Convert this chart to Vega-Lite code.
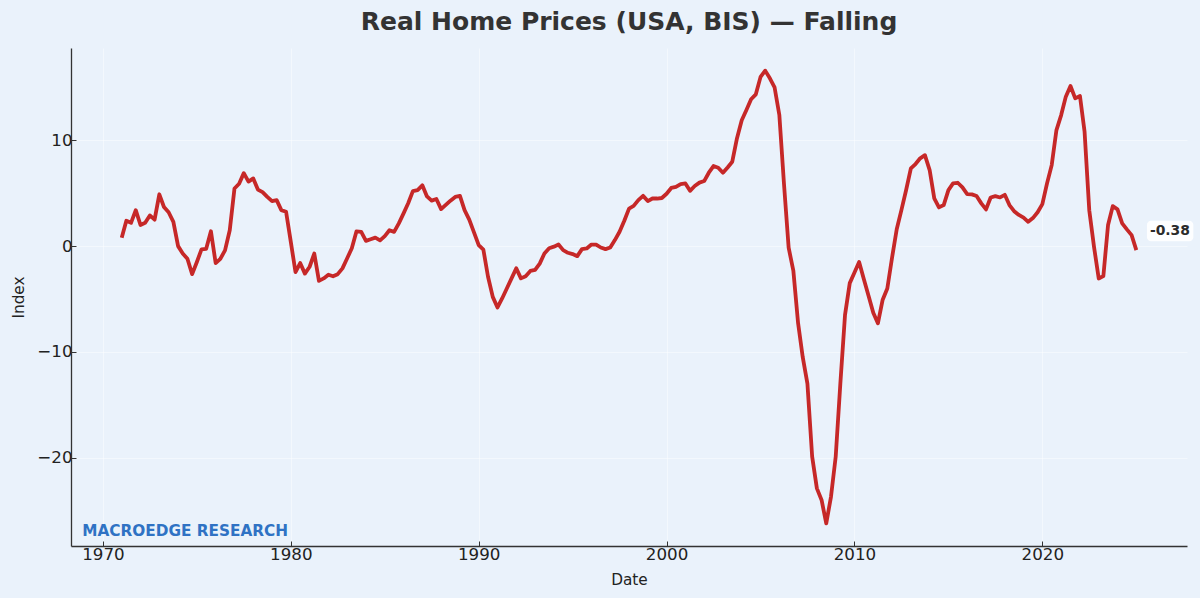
{
  "$schema": "https://vega.github.io/schema/vega-lite/v6.json",
  "width": 1116,
  "height": 498,
  "autosize": {"type": "none"},
  "padding": {"left": 71, "top": 48, "right": 13, "bottom": 52},
  "background": "#eaf2fb",
  "title": {
    "text": "Real Home Prices (USA, BIS) — Falling",
    "font": "DejaVu Sans",
    "fontSize": 25,
    "fontWeight": "bold",
    "color": "#333333",
    "anchor": "middle",
    "frame": "group",
    "baseline": "alphabetic",
    "offset": -7
  },
  "data": {
    "format": {"parse": {"date": "date"}},
    "values": [
      {"date": "1971-01-01", "value": 0.8}, {"date": "1971-04-01", "value": 2.4}, {"date": "1971-07-01", "value": 2.2}, {"date": "1971-10-01", "value": 3.4},
      {"date": "1972-01-01", "value": 2.0}, {"date": "1972-04-01", "value": 2.2}, {"date": "1972-07-01", "value": 2.9}, {"date": "1972-10-01", "value": 2.5},
      {"date": "1973-01-01", "value": 4.9}, {"date": "1973-04-01", "value": 3.7}, {"date": "1973-07-01", "value": 3.2}, {"date": "1973-10-01", "value": 2.3},
      {"date": "1974-01-01", "value": 0.0}, {"date": "1974-04-01", "value": -0.7}, {"date": "1974-07-01", "value": -1.2}, {"date": "1974-10-01", "value": -2.65},
      {"date": "1975-01-01", "value": -1.5}, {"date": "1975-04-01", "value": -0.3}, {"date": "1975-07-01", "value": -0.25}, {"date": "1975-10-01", "value": 1.4},
      {"date": "1976-01-01", "value": -1.6}, {"date": "1976-04-01", "value": -1.2}, {"date": "1976-07-01", "value": -0.4}, {"date": "1976-10-01", "value": 1.5},
      {"date": "1977-01-01", "value": 5.45}, {"date": "1977-04-01", "value": 5.9}, {"date": "1977-07-01", "value": 6.9}, {"date": "1977-10-01", "value": 6.1},
      {"date": "1978-01-01", "value": 6.4}, {"date": "1978-04-01", "value": 5.35}, {"date": "1978-07-01", "value": 5.1}, {"date": "1978-10-01", "value": 4.65},
      {"date": "1979-01-01", "value": 4.25}, {"date": "1979-04-01", "value": 4.35}, {"date": "1979-07-01", "value": 3.4}, {"date": "1979-10-01", "value": 3.25},
      {"date": "1980-01-01", "value": 0.4}, {"date": "1980-04-01", "value": -2.45}, {"date": "1980-07-01", "value": -1.6}, {"date": "1980-10-01", "value": -2.6},
      {"date": "1981-01-01", "value": -1.95}, {"date": "1981-04-01", "value": -0.7}, {"date": "1981-07-01", "value": -3.28}, {"date": "1981-10-01", "value": -3.05},
      {"date": "1982-01-01", "value": -2.7}, {"date": "1982-04-01", "value": -2.85}, {"date": "1982-07-01", "value": -2.65}, {"date": "1982-10-01", "value": -2.1},
      {"date": "1983-01-01", "value": -1.15}, {"date": "1983-04-01", "value": -0.2}, {"date": "1983-07-01", "value": 1.4}, {"date": "1983-10-01", "value": 1.35},
      {"date": "1984-01-01", "value": 0.5}, {"date": "1984-04-01", "value": 0.65}, {"date": "1984-07-01", "value": 0.8}, {"date": "1984-10-01", "value": 0.55},
      {"date": "1985-01-01", "value": 0.95}, {"date": "1985-04-01", "value": 1.5}, {"date": "1985-07-01", "value": 1.35}, {"date": "1985-10-01", "value": 2.15},
      {"date": "1986-01-01", "value": 3.1}, {"date": "1986-04-01", "value": 4.05}, {"date": "1986-07-01", "value": 5.2}, {"date": "1986-10-01", "value": 5.3},
      {"date": "1987-01-01", "value": 5.75}, {"date": "1987-04-01", "value": 4.7}, {"date": "1987-07-01", "value": 4.3}, {"date": "1987-10-01", "value": 4.45},
      {"date": "1988-01-01", "value": 3.5}, {"date": "1988-04-01", "value": 3.9}, {"date": "1988-07-01", "value": 4.3}, {"date": "1988-10-01", "value": 4.65},
      {"date": "1989-01-01", "value": 4.75}, {"date": "1989-04-01", "value": 3.4}, {"date": "1989-07-01", "value": 2.5}, {"date": "1989-10-01", "value": 1.3},
      {"date": "1990-01-01", "value": 0.1}, {"date": "1990-04-01", "value": -0.32}, {"date": "1990-07-01", "value": -2.9}, {"date": "1990-10-01", "value": -4.8},
      {"date": "1991-01-01", "value": -5.8}, {"date": "1991-04-01", "value": -4.95}, {"date": "1991-07-01", "value": -4.0}, {"date": "1991-10-01", "value": -3.05},
      {"date": "1992-01-01", "value": -2.1}, {"date": "1992-04-01", "value": -3.05}, {"date": "1992-07-01", "value": -2.85}, {"date": "1992-10-01", "value": -2.35},
      {"date": "1993-01-01", "value": -2.25}, {"date": "1993-04-01", "value": -1.65}, {"date": "1993-07-01", "value": -0.7}, {"date": "1993-10-01", "value": -0.2},
      {"date": "1994-01-01", "value": -0.05}, {"date": "1994-04-01", "value": 0.15}, {"date": "1994-07-01", "value": -0.38}, {"date": "1994-10-01", "value": -0.63},
      {"date": "1995-01-01", "value": -0.75}, {"date": "1995-04-01", "value": -0.95}, {"date": "1995-07-01", "value": -0.28}, {"date": "1995-10-01", "value": -0.22},
      {"date": "1996-01-01", "value": 0.15}, {"date": "1996-04-01", "value": 0.15}, {"date": "1996-07-01", "value": -0.13}, {"date": "1996-10-01", "value": -0.28},
      {"date": "1997-01-01", "value": -0.13}, {"date": "1997-04-01", "value": 0.57}, {"date": "1997-07-01", "value": 1.36}, {"date": "1997-10-01", "value": 2.4},
      {"date": "1998-01-01", "value": 3.55}, {"date": "1998-04-01", "value": 3.8}, {"date": "1998-07-01", "value": 4.35}, {"date": "1998-10-01", "value": 4.75},
      {"date": "1999-01-01", "value": 4.26}, {"date": "1999-04-01", "value": 4.5}, {"date": "1999-07-01", "value": 4.5}, {"date": "1999-10-01", "value": 4.55},
      {"date": "2000-01-01", "value": 4.95}, {"date": "2000-04-01", "value": 5.5}, {"date": "2000-07-01", "value": 5.6}, {"date": "2000-10-01", "value": 5.87},
      {"date": "2001-01-01", "value": 5.93}, {"date": "2001-04-01", "value": 5.23}, {"date": "2001-07-01", "value": 5.68}, {"date": "2001-10-01", "value": 6.0},
      {"date": "2002-01-01", "value": 6.15}, {"date": "2002-04-01", "value": 6.94}, {"date": "2002-07-01", "value": 7.57}, {"date": "2002-10-01", "value": 7.41},
      {"date": "2003-01-01", "value": 6.94}, {"date": "2003-04-01", "value": 7.44}, {"date": "2003-07-01", "value": 7.98}, {"date": "2003-10-01", "value": 10.2},
      {"date": "2004-01-01", "value": 11.9}, {"date": "2004-04-01", "value": 12.87}, {"date": "2004-07-01", "value": 13.88}, {"date": "2004-10-01", "value": 14.35},
      {"date": "2005-01-01", "value": 16.0}, {"date": "2005-04-01", "value": 16.59}, {"date": "2005-07-01", "value": 15.86}, {"date": "2005-10-01", "value": 15.0},
      {"date": "2006-01-01", "value": 12.4}, {"date": "2006-04-01", "value": 5.9}, {"date": "2006-07-01", "value": -0.15}, {"date": "2006-10-01", "value": -2.35},
      {"date": "2007-01-01", "value": -7.3}, {"date": "2007-04-01", "value": -10.5}, {"date": "2007-07-01", "value": -13.0}, {"date": "2007-10-01", "value": -19.9},
      {"date": "2008-01-01", "value": -22.9}, {"date": "2008-04-01", "value": -24.0}, {"date": "2008-07-01", "value": -26.21}, {"date": "2008-10-01", "value": -23.7},
      {"date": "2009-01-01", "value": -19.9}, {"date": "2009-04-01", "value": -13.0}, {"date": "2009-07-01", "value": -6.5}, {"date": "2009-10-01", "value": -3.5},
      {"date": "2010-01-01", "value": -2.5}, {"date": "2010-04-01", "value": -1.5}, {"date": "2010-07-01", "value": -3.1}, {"date": "2010-10-01", "value": -4.7},
      {"date": "2011-01-01", "value": -6.3}, {"date": "2011-04-01", "value": -7.3}, {"date": "2011-07-01", "value": -5.1}, {"date": "2011-10-01", "value": -4.0},
      {"date": "2012-01-01", "value": -1.1}, {"date": "2012-04-01", "value": 1.6}, {"date": "2012-07-01", "value": 3.4}, {"date": "2012-10-01", "value": 5.3},
      {"date": "2013-01-01", "value": 7.35}, {"date": "2013-04-01", "value": 7.76}, {"date": "2013-07-01", "value": 8.3}, {"date": "2013-10-01", "value": 8.6},
      {"date": "2014-01-01", "value": 7.19}, {"date": "2014-04-01", "value": 4.51}, {"date": "2014-07-01", "value": 3.66}, {"date": "2014-10-01", "value": 3.88},
      {"date": "2015-01-01", "value": 5.3}, {"date": "2015-04-01", "value": 5.93}, {"date": "2015-07-01", "value": 5.99}, {"date": "2015-10-01", "value": 5.55},
      {"date": "2016-01-01", "value": 4.92}, {"date": "2016-04-01", "value": 4.89}, {"date": "2016-07-01", "value": 4.73}, {"date": "2016-10-01", "value": 4.04},
      {"date": "2017-01-01", "value": 3.47}, {"date": "2017-04-01", "value": 4.6}, {"date": "2017-07-01", "value": 4.73}, {"date": "2017-10-01", "value": 4.6},
      {"date": "2018-01-01", "value": 4.85}, {"date": "2018-04-01", "value": 3.88}, {"date": "2018-07-01", "value": 3.3}, {"date": "2018-10-01", "value": 2.95},
      {"date": "2019-01-01", "value": 2.7}, {"date": "2019-04-01", "value": 2.3}, {"date": "2019-07-01", "value": 2.65}, {"date": "2019-10-01", "value": 3.2},
      {"date": "2020-01-01", "value": 3.97}, {"date": "2020-04-01", "value": 5.93}, {"date": "2020-07-01", "value": 7.66}, {"date": "2020-10-01", "value": 10.97},
      {"date": "2021-01-01", "value": 12.39}, {"date": "2021-04-01", "value": 14.13}, {"date": "2021-07-01", "value": 15.14}, {"date": "2021-10-01", "value": 13.97},
      {"date": "2022-01-01", "value": 14.19}, {"date": "2022-04-01", "value": 10.81}, {"date": "2022-07-01", "value": 3.4}, {"date": "2022-10-01", "value": -0.06},
      {"date": "2023-01-01", "value": -3.06}, {"date": "2023-04-01", "value": -2.84}, {"date": "2023-07-01", "value": 1.99}, {"date": "2023-10-01", "value": 3.78},
      {"date": "2024-01-01", "value": 3.47}, {"date": "2024-04-01", "value": 2.15}, {"date": "2024-07-01", "value": 1.58}, {"date": "2024-10-01", "value": 1.04},
      {"date": "2025-01-01", "value": -0.38}
    ]
  },
  "layer": [
    {
      "mark": {"type": "line", "color": "#c62828", "strokeWidth": 3.8, "strokeJoin": "round", "strokeCap": "butt"},
      "encoding": {
        "x": {
          "field": "date",
          "type": "temporal",
          "scale": {
            "type": "utc",
            "domain": [
              {"year": 1968, "month": 4, "date": 20, "utc": true},
              {"year": 2027, "month": 9, "date": 13, "utc": true}
            ]
          },
          "axis": {
            "title": "Date",
            "format": "%Y",
            "tickCount": {"interval": "year", "step": 10},
            "labelPadding": 5,
            "titlePadding": 10
          }
        },
        "y": {
          "field": "value",
          "type": "quantitative",
          "scale": {"domain": [-28.35, 18.73], "nice": false, "zero": false},
          "axis": {
            "title": "Index",
            "values": [-20, -10, 0, 10],
            "labelPadding": 4,
            "titlePadding": 10
          }
        }
      }
    },
    {
      "transform": [{"filter": "time(datum.date) === utc(2025, 0, 1)"}],
      "mark": {
        "type": "rect",
        "fill": "#ffffff",
        "opacity": 0.9,
        "cornerRadius": 4,
        "xOffset": 10.6,
        "x2Offset": 57,
        "yOffset": -29.3,
        "y2Offset": -9
      },
      "encoding": {
        "x": {"field": "date", "type": "temporal"},
        "x2": {"field": "date"},
        "y": {"field": "value", "type": "quantitative"},
        "y2": {"field": "value"}
      }
    },
    {
      "transform": [
        {"filter": "time(datum.date) === utc(2025, 0, 1)"},
        {"calculate": "replace(format(datum.value, '.2f'), '\u2212', '-')", "as": "label"}
      ],
      "mark": {
        "type": "text",
        "font": "DejaVu Sans",
        "fontSize": 13.9,
        "fontWeight": "bold",
        "color": "#2b2b2b",
        "align": "center",
        "baseline": "middle",
        "xOffset": 33.6,
        "yOffset": -19.1
      },
      "encoding": {
        "x": {"field": "date", "type": "temporal"},
        "y": {"field": "value", "type": "quantitative"},
        "text": {"field": "label"}
      }
    },
    {
      "data": {"values": [{"brand": "MACROEDGE RESEARCH"}]},
      "mark": {
        "type": "text",
        "font": "DejaVu Sans",
        "fontSize": 15.3,
        "fontWeight": "bold",
        "color": "#2f72c4",
        "align": "left",
        "baseline": "alphabetic",
        "x": {"expr": "width * 0.01"},
        "y": {"expr": "height * 0.98"}
      },
      "encoding": {"text": {"field": "brand"}}
    }
  ],
  "config": {
    "view": {"stroke": null},
    "font": "DejaVu Sans",
    "axis": {
      "labelFont": "DejaVu Sans",
      "labelFontSize": 16.7,
      "labelColor": "#222222",
      "titleFont": "DejaVu Sans",
      "titleFontSize": 15.3,
      "titleFontWeight": "normal",
      "titleColor": "#222222",
      "domainColor": "#333333",
      "domainWidth": 1.3,
      "tickColor": "#333333",
      "tickWidth": 1,
      "tickSize": -5,
      "grid": true,
      "gridColor": "#ffffff",
      "gridOpacity": 0.55,
      "gridWidth": 0.8
    }
  }
}
